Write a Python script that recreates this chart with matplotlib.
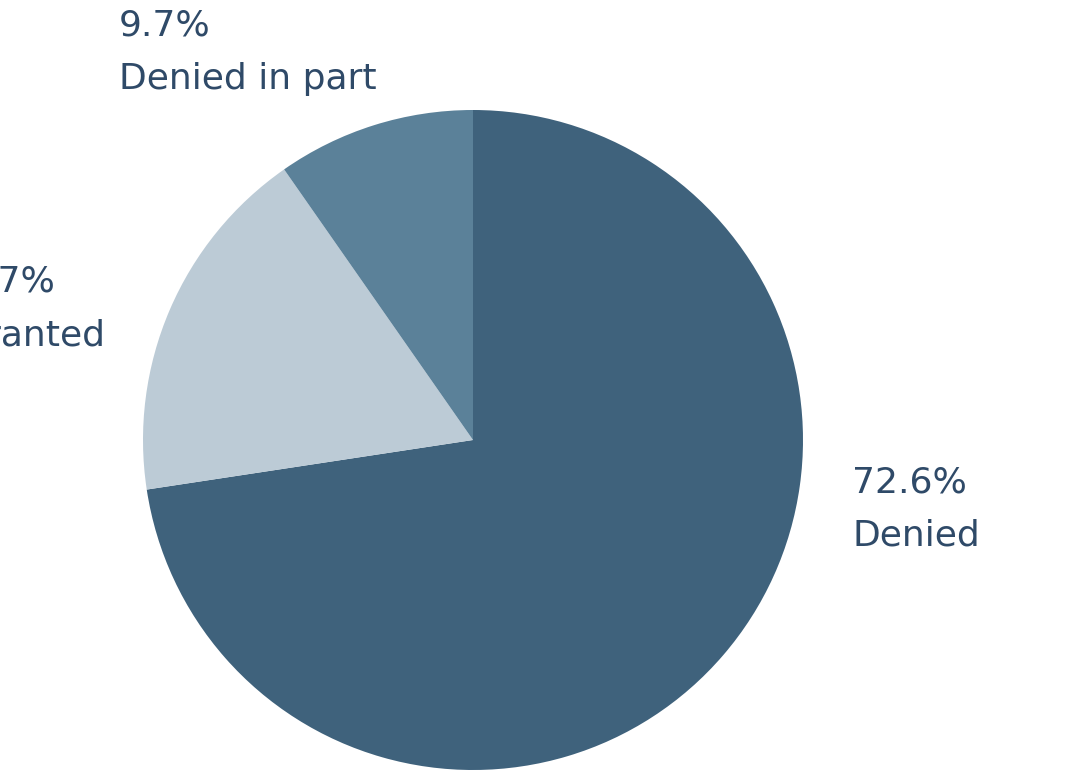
import matplotlib
matplotlib.use("Agg")
import matplotlib.pyplot as plt

categories = ["Denied", "Granted", "Denied in part"]
shares = [72.6, 17.7, 9.7]
colors = ["#3f627c", "#bccbd6", "#5b8199"]
text_color = "#2f4a68"

plt.rcParams["font.family"] = ["DejaVu Sans"]

W, H = 1074, 772
fig = plt.figure(figsize=(W / 100, H / 100), dpi=100)
# pie centre ~ (473, 440) px, radius ~ 330 px
ax = fig.add_axes([143 / W, 2 / H, 660 / W, 660 / H])
ax.pie(shares, colors=colors, startangle=90, counterclock=False,
       radius=1.0, wedgeprops={"linewidth": 0})
ax.set_xlim(-1, 1)
ax.set_ylim(-1, 1)
ax.set_aspect("equal")
ax.axis("off")

fs = 26
gap = 53


def label(x_px, base_px, pct, name, ha="left"):
    fig.text(x_px / W, 1 - base_px / H, f"{pct:.1f}%", ha=ha, va="baseline",
             fontsize=fs, color=text_color)
    fig.text(x_px / W, 1 - (base_px + gap) / H, name, ha=ha, va="baseline",
             fontsize=fs, color=text_color)


label(852, 492, shares[0], categories[0])
label(119, 36, shares[2], categories[2])
# Granted label sits partly off the left edge, as in the source
fig.text(105 / W, 1 - 345 / H, categories[1], ha="right", va="baseline",
         fontsize=fs, color=text_color)
fig.text(55 / W, 1 - 292 / H, f"{shares[1]:.1f}%", ha="right", va="baseline",
         fontsize=fs, color=text_color)

fig.savefig("out.png", dpi=100)
